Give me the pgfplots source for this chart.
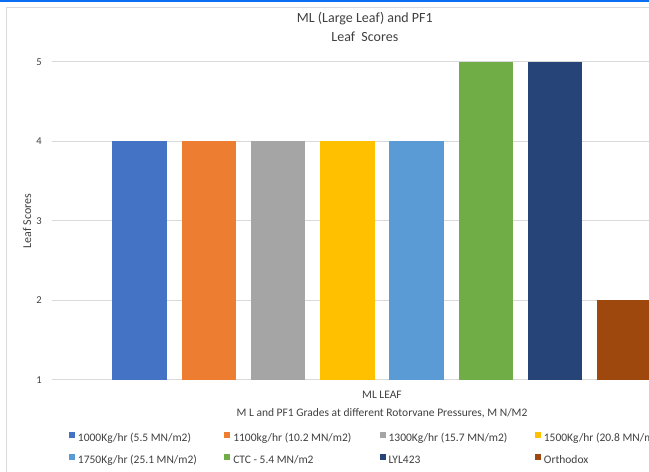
\documentclass[border=0pt]{standalone}
\usepackage{pgfplots}
\pgfplotsset{compat=1.18}
\usepackage{fontspec}
\setmainfont{Carlito}
\definecolor{c1}{HTML}{4472C4}
\definecolor{c2}{HTML}{ED7D31}
\definecolor{c3}{HTML}{A5A5A5}
\definecolor{c4}{HTML}{FFC000}
\definecolor{c5}{HTML}{5B9BD5}
\definecolor{c6}{HTML}{70AD47}
\definecolor{c7}{HTML}{264478}
\definecolor{c8}{HTML}{9E480E}
\definecolor{gridc}{HTML}{D9D9D9}
\definecolor{txt}{HTML}{404040}
\definecolor{topblue}{RGB}{10,110,245}
\newcommand{\legtext}[1]{\makebox[149.3pt][l]{\hspace{3pt}#1}}
\begin{document}
\begin{tikzpicture}
\useasboundingbox (0,0) rectangle (649pt,472pt);
\clip (0,0) rectangle (649pt,472pt);
\fill[white] (0,0) rectangle (649pt,472pt);
\draw[gridc, line width=1pt] (6.5pt,0) -- (6.5pt,464.5pt) -- (660pt,464.5pt);
\fill[topblue] (0,470pt) rectangle (649pt,472pt);
\begin{axis}[
  at={(52pt,92pt)}, anchor=south west,
  scale only axis, width=660pt, height=318pt,
  xmin=-1.263, xmax=8.263, ymin=1, ymax=5,
  ytick={1,2,3,4,5},
  xtick={3.5}, xticklabels={ML LEAF},
  major tick length=0pt,
  axis line style={draw=none},
  ymajorgrids, grid style={gridc, line width=1pt},
  /pgf/number format/assume math mode=true,
  tick label style={font=\fontsize{10.5}{12}\selectfont, text=txt},
  yticklabel style={anchor=east, inner sep=0pt, xshift=-10pt},
  xticklabel style={anchor=north, inner sep=0pt, yshift=-10.5pt, font=\fontsize{11.5}{13}\selectfont},
  ylabel={Leaf Scores},
  ylabel style={at={(axis description cs:-0.0379,0.5)}, anchor=center, font=\fontsize{12}{13}\selectfont, text=txt},
  xlabel={M L and PF1 Grades at different Rotorvane Pressures, M N/M2},
  xlabel style={at={(axis description cs:0.5,-0.1038)}, anchor=center, font=\fontsize{11.5}{13}\selectfont, text=txt},
  title={ML (Large Leaf) and PF1\\Leaf~~Scores},
  title style={at={(axis description cs:0.474,1.0928)}, anchor=center, align=center, font=\fontsize{14}{19}\selectfont, text=txt},
  legend image code/.code={\fill[#1] (0pt,0.5pt) rectangle (6pt,6.5pt);},
  legend columns=4,
  legend style={at={(axis description cs:0.02576,-0.16509)}, anchor=north west, draw=none, fill=none, inner sep=0pt, outer sep=0pt, row sep=11pt, nodes={inner sep=0pt, text height=7pt, text depth=2pt, text=txt}, font=\fontsize{11.5}{13}\selectfont},
  legend cell align=left,
]
\addplot[ybar, bar width=54.5pt, bar shift=0pt, fill=c1, draw=none] coordinates {(0,4)};
\addlegendentry{\legtext{1000Kg/hr (5.5 MN/m2)}}
\addplot[ybar, bar width=54.5pt, bar shift=0pt, fill=c2, draw=none] coordinates {(1,4)};
\addlegendentry{\legtext{1100kg/hr (10.2 MN/m2)}}
\addplot[ybar, bar width=54.5pt, bar shift=0pt, fill=c3, draw=none] coordinates {(2,4)};
\addlegendentry{\legtext{1300Kg/hr (15.7 MN/m2)}}
\addplot[ybar, bar width=54.5pt, bar shift=0pt, fill=c4, draw=none] coordinates {(3,4)};
\addlegendentry{\legtext{1500Kg/hr (20.8 MN/m2)}}
\addplot[ybar, bar width=54.5pt, bar shift=0pt, fill=c5, draw=none] coordinates {(4,4)};
\addlegendentry{\legtext{1750Kg/hr (25.1 MN/m2)}}
\addplot[ybar, bar width=54.5pt, bar shift=0pt, fill=c6, draw=none] coordinates {(5,5)};
\addlegendentry{\legtext{CTC - 5.4 MN/m2}}
\addplot[ybar, bar width=54.5pt, bar shift=0pt, fill=c7, draw=none] coordinates {(6,5)};
\addlegendentry{\legtext{LYL423}}
\addplot[ybar, bar width=54.5pt, bar shift=0pt, fill=c8, draw=none] coordinates {(7,2)};
\addlegendentry{\legtext{Orthodox}}
\end{axis}
\end{tikzpicture}
\end{document}
